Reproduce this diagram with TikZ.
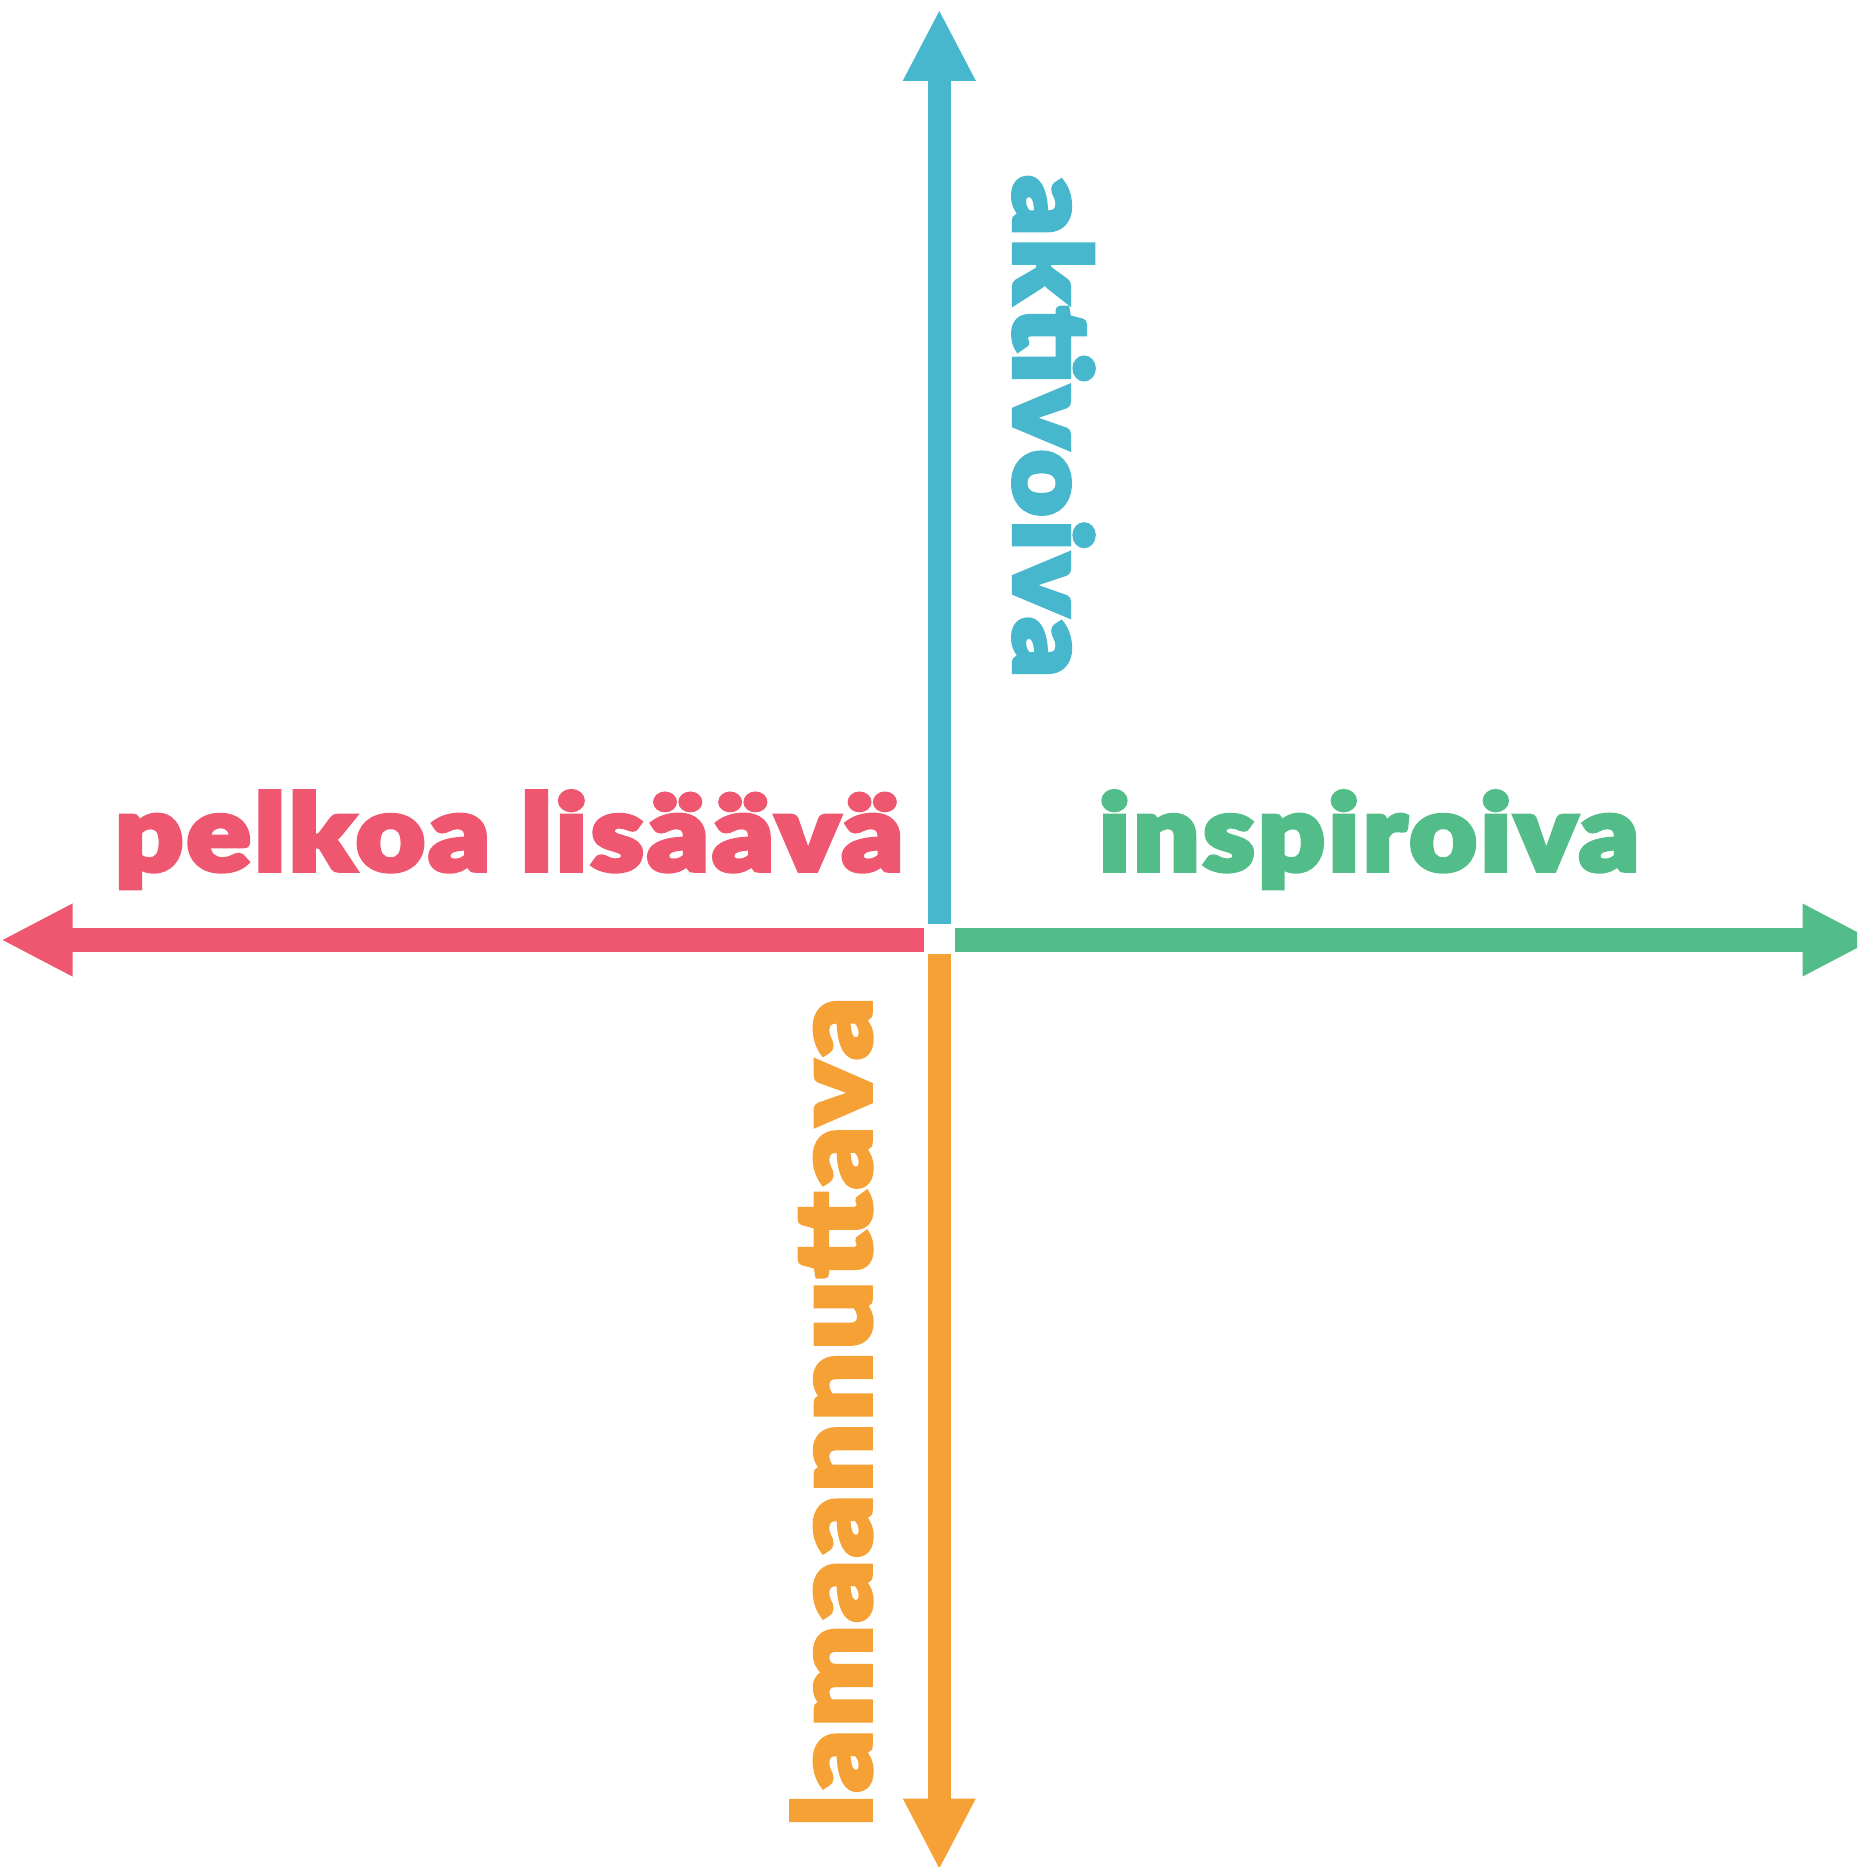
\documentclass[tikz,border=0pt]{standalone}
\usepackage{fontspec}
\usepackage{graphicx}
\newfontfamily\heavy{Lato Black}[FakeBold=4,LetterSpace=3]
\usetikzlibrary{arrows.meta}
\definecolor{cblue}{HTML}{47B7CD}
\definecolor{cred}{HTML}{EF5770}
\definecolor{cgreen}{HTML}{53BD8A}
\definecolor{corange}{HTML}{F6A135}
\begin{document}
\begin{tikzpicture}[x=1pt,y=-1pt,
  axis/.style={line width=23.5pt, line cap=butt, -{Triangle[length=71.5pt,width=67.3pt]}},
  lbl/.style={inner sep=0pt, outer sep=0pt, font=\heavy\fontsize{106}{116}\selectfont}]
\clip (0,0) rectangle (1857,1867);
\fill[white] (0,0) rectangle (1857,1867);
\coordinate (bS) at (939.3,924);   \coordinate (bT) at (939.3,9.3);
\coordinate (rS) at (924.3,940);   \coordinate (rT) at (1,940);
\coordinate (gS) at (954.7,940);   \coordinate (gT) at (1874,940);
\coordinate (oS) at (939.3,954.3); \coordinate (oT) at (939.3,1870);
\draw[axis, cblue] (bS) -- (bT);
\draw[axis, cred] (rS) -- (rT);
\draw[axis, cgreen] (gS) -- (gT);
\draw[axis, corange] (oS) -- (oT);
\node[lbl, text=cred, anchor=base west] (tRed) at (115,870.7) {\resizebox{788pt}{\height}{pelkoa lisäävä}};
\node[lbl, text=cgreen, anchor=base west] (tGreen) at (1099,870.7) {\resizebox{540pt}{\height}{inspiroiva}};
\node[lbl, text=cblue, rotate=-90, anchor=base west] (tBlue) at (1014,176) {\resizebox{501pt}{\height}{aktivoiva}};
\node[lbl, text=corange, rotate=90, anchor=base west] (tOrange) at (870.7,1826) {\resizebox{828pt}{\height}{lamaannuttava}};
\end{tikzpicture}
\end{document}
